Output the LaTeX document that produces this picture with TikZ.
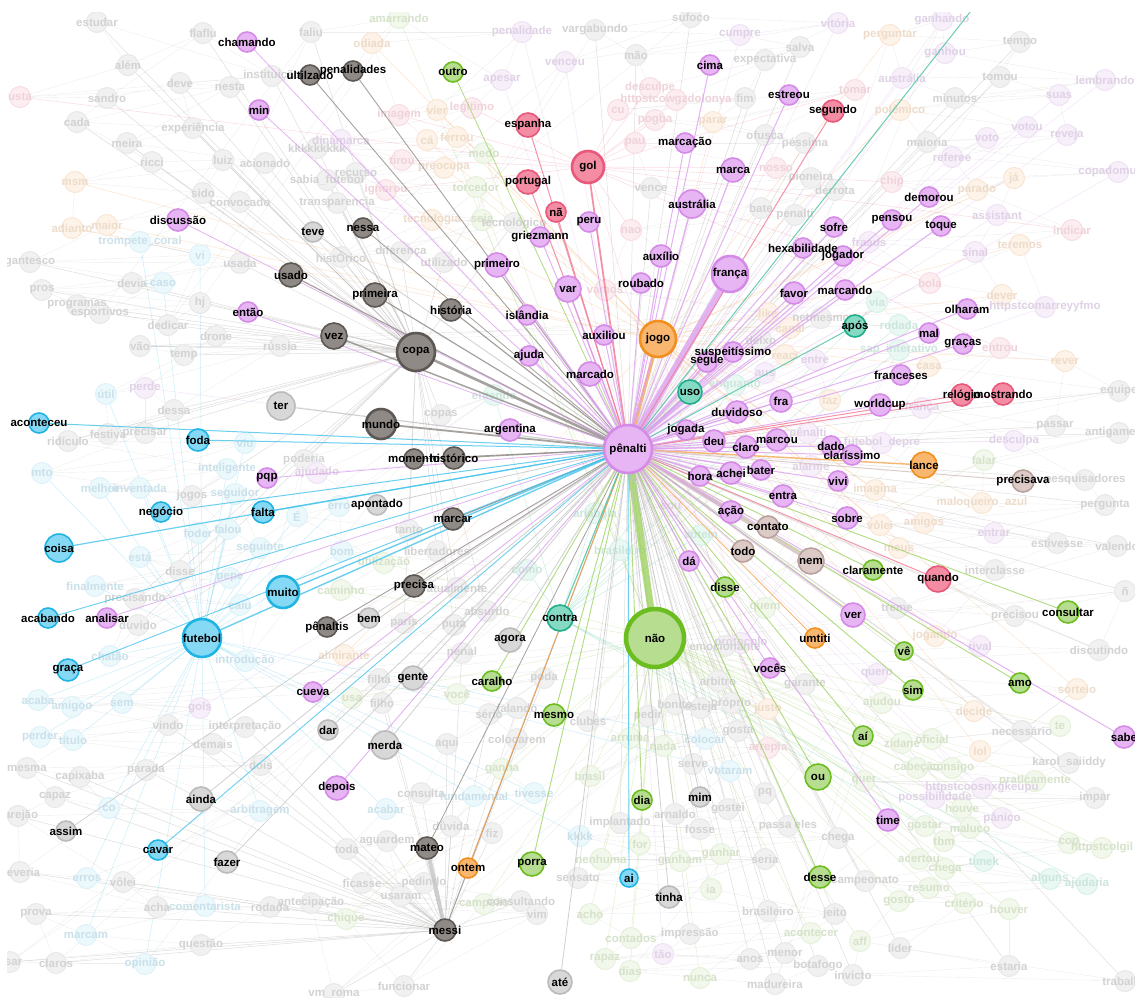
\documentclass[tikz,border=0pt]{standalone}
\usepackage{fontspec}
\setmainfont{Liberation Sans}
\pgfdeclarelayer{paper}\pgfdeclarelayer{bgedge}\pgfdeclarelayer{bgnode}\pgfdeclarelayer{fgedge}
\pgfsetlayers{paper,bgedge,bgnode,fgedge,main}
% foreground fills / borders
\definecolor{vF}{HTML}{E7B5F4}\definecolor{vD}{HTML}{D48AE6}
\definecolor{gF}{HTML}{8F8A86}\definecolor{gD}{HTML}{5D5854}
\definecolor{lF}{HTML}{D8D8D8}\definecolor{lD}{HTML}{BBBBBB}
\definecolor{bF}{HTML}{86D9F5}\definecolor{bD}{HTML}{20B4E5}
\definecolor{nF}{HTML}{B7DD90}\definecolor{nD}{HTML}{6CBD20}
\definecolor{rF}{HTML}{F48CA3}\definecolor{rD}{HTML}{E8587B}
\definecolor{oF}{HTML}{F9B66E}\definecolor{oD}{HTML}{F2901F}
\definecolor{tF}{HTML}{84DAC3}\definecolor{tD}{HTML}{20AE8A}
\definecolor{wF}{HTML}{DCCAC7}\definecolor{wD}{HTML}{B9A29E}
% edge colours
\definecolor{vE}{HTML}{DCA2EE}\definecolor{gE}{HTML}{8F8A86}\definecolor{lE}{HTML}{C4C4C4}
\definecolor{bE}{HTML}{45C3EC}\definecolor{nE}{HTML}{9FD262}\definecolor{rE}{HTML}{F07A95}
\definecolor{oE}{HTML}{F5A650}\definecolor{tE}{HTML}{45C1A0}\definecolor{wE}{HTML}{D3C0BC}
% faded background
\definecolor{gB}{HTML}{F1F1F1}\definecolor{gBd}{HTML}{E8E8E8}\definecolor{gT}{HTML}{D3D3D3}
\definecolor{vB}{HTML}{F7EFFA}\definecolor{vBd}{HTML}{F0E2F5}\definecolor{vT}{HTML}{E0D2E6}
\definecolor{bB}{HTML}{EBF8FC}\definecolor{bBd}{HTML}{DDF2FA}\definecolor{bT}{HTML}{CBE1EA}
\definecolor{nB}{HTML}{F2F8EC}\definecolor{nBd}{HTML}{E5F1DA}\definecolor{nT}{HTML}{D6E2CA}
\definecolor{rB}{HTML}{FCEDF1}\definecolor{rBd}{HTML}{F8DDE3}\definecolor{rT}{HTML}{EFD3DA}
\definecolor{oB}{HTML}{FDF3E8}\definecolor{oBd}{HTML}{FAE6D4}\definecolor{oT}{HTML}{EEDCCB}
\definecolor{tB}{HTML}{EAF8F3}\definecolor{tBd}{HTML}{D8F1E9}\definecolor{tT}{HTML}{CCE6DE}
\newcommand\myclip{\clip (7,12) rectangle (1135,997);}

\def\fglist{%
pen/628/449/24/v/pênalti/0,
nao/655/638/29/n/não/7,
franca/730/274/18/v/frança/7,
jogo/658/339/18/o/jogo/3.5,
copa/416/352/19/g/copa/2.6,
mundo/381/424/15/g/mundo/1.8,
vez/334/336/13/g/vez/1.5,
usado/291/275/12/g/usado/1.2,
primeira/375/295/12/g/primeira/1.2,
historia/451/310/11/g/história/1.2,
nessa/363/228/10/g/nessa/0.8,
ultilzado/310/75/10/g/ultilzado/0.9,
penalidades/353/71/10/g/penalidades/0.9,
momento/414/459/10/g/momento/0.9,
historico/454/458/11/g/histórico/1.2,
marcar/453/519/11/g/marcar/1.2,
precisa/414/586/11/g/precisa/0.9,
penaltis/327/627/10/g/pênaltis/0.9,
mateo/427/848/11/g/mateo/0.8,
messi/445/930/11/g/messi/0.8,
teve/313/232/10/l/teve/0.8,
ter/281/406/14/l/ter/1,
apontado/377/505/10/l/apontado/0.8,
bem/369/618/10/l/bem/0.8,
gente/413/678/12/l/gente/0.8,
agora/510/640/12/l/agora/0.8,
dar/328/730/10/l/dar/0.8,
merda/385/745/14/l/merda/0.8,
ainda/201/799/12/l/ainda/0.8,
assim/66/831/10/l/assim/0.7,
fazer/227/862/11/l/fazer/0.7,
mim/700/797/10/l/mim/0.8,
tinha/669/897/11/l/tinha/0.8,
ate/560/982/12/l/até/0.8,
aconteceu/39/423/10/b/aconteceu/1,
foda/198/440/11/b/foda/1,
negocio/161/512/10/b/negócio/1,
falta/263/512/11/b/falta/1,
coisa/59/548/14/b/coisa/1.2,
muito/283/592/16/b/muito/1.4,
futebol/202/638/19/b/futebol/1.4,
acabando/48/618/10/b/acabando/0.9,
graca/68/670/11/b/graça/0.9,
cavar/158/850/10/b/cavar/0.9,
ai/629/878/9/b/ai/0.9,
outro/453/72/10/n/outro/0.8,
disse/725/587/10/n/disse/0.9,
claramente/873/570/10/n/claramente/0.9,
consultar/1068/612/11/n/consultar/0.9,
ve/904/651/9/n/vê/0.9,
sim/913/690/10/n/sim/0.9,
amo/1020/683/10/n/amo/0.9,
aii/863/736/10/n/aí/0.9,
ou/818/777/13/n/ou/0.9,
dia/642/800/10/n/dia/0.9,
porra/532/864/12/n/porra/0.9,
mesmo/554/715/11/n/mesmo/0.9,
caralho/492/681/10/n/caralho/0.9,
desse/820/877/11/n/desse/0.9,
espanha/528/125/12/r/espanha/1,
portugal/528/182/12/r/portugal/1,
na/556/212/10/r/nã/1,
gol/588/167/16/r/gol/1.8,
segundo/833/111/11/r/segundo/1,
relogio/962/395/11/r/relógio/1,
mostrando/1003/394/11/r/mostrando/1,
quando/938/579/13/r/quando/1,
lance/924/465/13/o/lance/1.4,
umtiti/815/638/10/o/umtiti/0.9,
ontem/468/868/10/o/ontem/1,
uso/690/392/12/t/uso/1.2,
apos/855/326/11/t/após/1,
contra/560/618/13/t/contra/1.2,
nem/811/561/13/w/nem/3.5,
todo/743/551/11/w/todo/1.2,
contato/768/527/11/w/contato/1.2,
precisava/1023/481/11/w/precisava/1,
chamando/247/42/10/v/chamando/0.8,
min/259/110/10/v/min/0.8,
discussao/178/220/11/v/discussão/0.8,
entao/248/312/10/v/então/0.8,
pqp/267/478/10/v/pqp/0.8,
analisar/107/618/10/v/analisar/0.8,
cueva/313/692/10/v/cueva/0.9,
depois/337/788/12/v/depois/0.9,
argentina/510/430/11/v/argentina/1,
cima/710/65/10/v/cima/1,
estreou/789/95/10/v/estreou/1,
marcacao/685/143/10/v/marcação/1,
marca/733/170/12/v/marca/1.2,
australia/692/204/14/v/austrália/1.5,
peru/589/222/10/v/peru/1,
griezmann/540/237/10/v/griezmann/1,
primeiro/497/265/12/v/primeiro/1.2,
auxilio/661/256/11/v/auxílio/1.2,
roubado/641/283/10/v/roubado/1,
var/568/289/13/v/var/1.5,
islandia/527/315/10/v/islândia/1,
ajuda/529/356/10/v/ajuda/1,
auxiliou/604/335/10/v/auxiliou/1,
marcado/590/374/12/v/marcado/1.5,
sofre/834/227/10/v/sofre/1,
hexabilidade/803/248/10/v/hexabilidade/1,
jogador/843/256/10/v/jogador/1,
demorou/929/197/10/v/demorou/1,
pensou/892/220/10/v/pensou/1,
toque/941/226/10/v/toque/1,
favor/794/293/11/v/favor/1,
marcando/845/290/10/v/marcando/1,
olharam/967/309/10/v/olharam/1,
mal/929/333/10/v/mal/1,
gracas/963/344/10/v/graças/1,
suspeitissimo/733/352/10/v/suspeitíssimo/1,
segue/707/362/10/v/segue/1,
franceses/901/375/10/v/franceses/1,
worldcup/880/405/11/v/worldcup/1,
fra/781/401/11/v/fra/1,
duvidoso/737/412/11/v/duvidoso/1,
jogada/686/430/10/v/jogada/1,
deu/714/441/11/v/deu/1,
claro/746/447/11/v/claro/1,
marcou/777/440/11/v/marcou/1,
dado/831/446/10/v/dado/1,
clarissimo/852/455/10/v/claríssimo/1,
achei/731/473/11/v/achei/1,
bater/761/470/10/v/bater/1,
hora/700/476/10/v/hora/1,
vivi/838/481/10/v/vivi/1,
entra/783/496/11/v/entra/1,
acao/731/512/11/v/ação/1,
sobre/847/518/11/v/sobre/1,
da/689/561/10/v/dá/1,
ver/853/615/12/v/ver/1,
voces/770/668/10/v/vocês/1,
time/888/820/11/v/time/1,
sabe/1124/737/11/v/sabe/1}

\def\bglist{%
97/22/estudar/g,128/65/além/g,203/33/flaflu/g,272/76/instituição/g,20/97/usta/r,107/98/sandro/g,
180/83/deve/g,230/87/nesta/g,77/122/cada/g,193/128/experiência/g,127/143/meira/g,152/162/ricci/g,
223/160/luiz/g,265/163/acionado/g,75/182/msm/o,203/193/sido/g,240/202/convocado/g,72/228/adianto/o,
107/225/maior/o,140/242/trompete\_coral/b,200/255/vi/b,30/262/gantesco/g,240/263/usada/g,132/283/devia/g,
163/283/caso/b,42/290/pros/g,77/305/programas/g,100/313/esportivos/g,200/303/hj/g,168/325/dedicar/g,
311/32/faliu/g,399/18/amarrando/n,372/43/odiada/o,522/32/penalidade/v,502/80/apesar/v,399/115/imagem/r,
437/110/vier/o,472/108/legitimo/r,427/140/cá/o,457/137/ferrou/o,341/140/dinamarca/v,317/148/kkkkkkkkk/g,
484/153/medo/n,402/160/tirou/r,444/168/preocupa/o,327/180/sabia\_futebol/g,356/173/recurso/g,386/190/ignorou/r,
476/187/torcedor/n,337/203/transparencia/g,432/220/tecnologia/o,482/220/seja/n,514/223/tecnológico/g,
341/257/histÓrico/g,401/252/diferença/g,444/262/utilizado/g,565/62/venceu/v,
691/17/sufoco/g,595/30/vargabundo/g,740/35/cumpre/v,838/23/vitória/v,636/55/mão/g,800/47/salva/g,
765/60/expectativa/g,650/88/desculpe/r,676/100/httpstcowgzdolonya/r,745/98/fim/g,618/110/cu/r,655/120/pogba/r,
713/122/parar/o,855/90/tomar/r,765/135/ofusca/g,805/143/péssima/g,635/143/pau/r,776/168/nosso/r,
811/178/pioneira/g,651/188/vence/g,835/190/derrota/g,761/208/bate/g,795/215/penalti/g,631/230/nao/r,
605/290/vamos/r,768/313/like/o,790/328/canal/o,821/318/netmesmo/g,
942/20/ganhando/v,890/35/perguntar/o,1020/42/tempo/g,945/53/ganhou/v,902/78/austrália/v,1000/77/tomou/g,
1105/80/lembrando/v,955/98/minutos/g,1059/95/suas/v,900/110/polêmico/o,1027/127/votou/v,1067/135/reveja/v,
927/142/maioria/g,987/138/voto/v,952/157/referee/v,1118/172/copadomundo/v,892/182/chip/r,977/190/parado/o,
1014/178/já/o,997/215/assistant/v,1072/230/indicar/r,869/242/fraaus/v,975/252/sinal/v,1020/245/teremos/o,
930/283/bola/r,1002/295/dever/o,1045/307/httpstcomarreyyfmo/v,877/302/via/t,899/325/rodada/t,
140/346/vão/g,184/355/temp/g,216/336/drone/g,280/346/rússia/g,106/394/útil/b,145/388/perde/v,
174/410/dessa/g,108/434/festiva/g,145/433/precisar/g,68/441/ridículo/g,245/443/viu/b,42/473/mto/b,
227/469/inteligente/b,100/488/melhor/b,140/488/inventada/b,192/496/jogos/g,235/494/seguidor/b,198/533/foder/b,
228/529/falou/b,260/548/seguinte/b,140/557/está/b,180/571/disse/g,95/586/finalmente/b,230/578/pepe/b,
135/599/precisando/g,240/605/caiu/b,138/625/duvido/g,110/656/chatão/b,245/661/introdução/b,
441/415/copas/g,494/395/entende/t,304/460/poderia/g,317/473/ajudado/v,339/506/erro/b,297/516/É/b,
409/530/tanto/g,342/551/bom/b,384/563/utilização/n,437/551/libertadores/g,527/570/como/t,341/590/caminho/n,
457/588/atualmente/g,487/611/absurdo/g,404/623/paris/g,454/625/puta/g,344/655/almirante/o,462/653/penal/g,
761/340/deixo/g,785/355/reaci/o,815/360/entre/v,765/373/aus/v,735/385/enquanto/t,830/400/faz/o,
808/433/pênalti/v,811/466/alarme/v,671/506/sou/v,595/513/ariabela/t,701/535/votem/t,620/550/brasileiro/t,
765/608/quem/n,741/643/protocolo/v,725/646/emocionante/g,
899/350/sap\_interativo/t,929/366/casa/o,1000/348/entrou/r,1065/361/rever/o,1119/391/equipe/g,922/408/frança/v,
1055/426/passar/g,882/443/futebol\_depre/v,1014/441/desculpa/v,1119/433/antigamente/g,984/460/falar/n,
1085/480/pesquisadores/g,875/490/imagina/o,982/503/maloqueiro\_azul/o,1105/505/pergunta/g,880/525/vôlei/o,
924/523/amigos/o,994/533/entrar/v,1057/543/estivesse/g,1117/546/valendo/g,899/548/meus/o,995/570/interclasse/g,
897/608/treme/g,1015/616/precisou/g,935/636/jogando/o,980/646/rival/v,1099/650/discutindo/g,1125/591/ñ/g,
38/700/acaba/b,72/707/amigoo/b,122/703/sem/b,200/708/gols/v,168/725/vindo/g,245/727/interpretação/g,
40/737/perder/b,73/740/título/b,213/744/demais/g,261/765/dois/g,27/768/mesma/g,80/777/capixaba/g,
146/770/parada/g,55/797/capaz/g,109/808/co/b,260/811/arbitragem/b,18/816/varejão/g,20/872/deveria/g,
87/878/erros/b,123/882/vôlei/g,157/907/acha/g,205/906/comentarista/b,270/907/rodada/g,36/914/prova/g,
86/935/marcam/b,201/945/questão/g,56/963/claros/g,145/964/opinião/b,10/962/usar/g,
379/679/filha/g,352/698/usa/n,382/703/filho/g,457/694/você/n,544/678/poda/g,489/714/sério/g,
517/708/falando/g,447/744/aqui/g,517/739/colocarem/g,502/769/ganha/n,421/793/consulta/g,
474/796/fundamental/b,534/793/tivesse/b,386/809/acabar/b,451/826/dúvida/g,492/833/fiz/g,347/849/toda/g,
387/841/aguardem/g,362/883/ficasse/g,424/883/pedindo/g,401/896/usaram/g,484/904/campeão/n,521/901/consultando/g,
537/914/vim/g,311/903/antecipação/g,346/919/chique/n,404/986/funcionar/g,334/994/vm\_roma/g,
648/716/pedir/g,675/704/bonito/g,701/708/esteja/g,731/703/próprio/g,718/681/arbitro/g,805/684/garante/g,
588/721/clubes/g,768/709/justo/o,590/776/brasil/n,630/738/arruma/n,663/746/nada/n,705/739/colocar/b,
738/731/gosta/g,768/748/arrepia/r,693/764/serve/g,730/771/votaram/b,765/793/pq/g,728/809/gostei/g,
675/814/arnaldo/g,620/823/implantado/g,700/829/fosse/g,788/826/passa eles/g,838/838/chega/g,580/836/kkkk/b,
640/844/for/n,601/859/nenhuma/n,680/861/ganham/n,721/854/ganhar/n,765/859/seria/g,578/878/sensato/g,
711/889/ia/n,590/914/acho/n,768/911/brasileiro/g,835/914/jeito/g,631/938/contados/n,690/934/impressão/g,
811/933/acontecer/n,605/959/rapaz/n,663/954/tão/v,750/959/anos/g,785/953/menor/g,818/966/botafogo/g,
630/971/dias/n,700/978/nunca/n,775/984/madureira/g,
877/674/quero/v,1077/689/sorteio/o,882/703/ajudou/n,974/711/decide/o,1022/731/necessário/g,1060/726/te/n,
902/743/zidane/n,932/739/oficial/n,980/751/lol/o,917/768/cabeção/n,952/768/consigo/n,1069/763/karol\_saiiddy/g,
1035/781/praticamente/n,864/781/quer/n,982/788/httpstcoosnxgkeupu/v,935/798/possibilidade/v,1095/798/impar/g,
962/808/houve/n,1002/818/pânico/v,925/826/gostar/n,970/828/maluco/n,944/841/tbm/n,1069/843/cop/n,
1102/848/httpstcolgil/n,919/859/acertou/n,945/869/chega/n,984/861/timek/t,1050/879/alguns/t,1087/884/ajudaria/t,
865/881/campeonato/g,929/888/resumo/n,899/901/gosto/n,964/903/critério/n,1009/909/houver/n,860/941/aff/n,
900/948/líder/g,1009/966/estaria/g,853/975/invicto/g,1125/981/trabalho/g}

\begin{document}
\begin{tikzpicture}[x=1pt,y=-1pt,
  fgnode/.style={circle,inner sep=0pt},
  fgv/.style={fgnode,fill=vF,draw=vD},fgg/.style={fgnode,fill=gF,draw=gD},
  fgl/.style={fgnode,fill=lF,draw=lD},fgb/.style={fgnode,fill=bF,draw=bD},
  fgn/.style={fgnode,fill=nF,draw=nD},fgr/.style={fgnode,fill=rF,draw=rD},
  fgo/.style={fgnode,fill=oF,draw=oD},fgt/.style={fgnode,fill=tF,draw=tD},
  fgw/.style={fgnode,fill=wF,draw=wD},
  egbase/.style={draw opacity=0.8,line cap=round},
  egv/.style={egbase,draw=vE},egg/.style={egbase,draw=gE},egl/.style={egbase,draw=lE},
  egb/.style={egbase,draw=bE},egn/.style={egbase,draw=nE},egr/.style={egbase,draw=rE},
  ego/.style={egbase,draw=oE},egt/.style={egbase,draw=tE},egw/.style={egbase,draw=wE},
  lbl/.style={inner sep=0pt,font=\bfseries\fontsize{11.5}{12}\selectfont,text=black},
  bgbase/.style={circle,inner sep=0pt,minimum size=21pt,line width=1pt},
  bgg/.style={bgbase,fill=gB,draw=gBd},bgv/.style={bgbase,fill=vB,draw=vBd},
  bgb/.style={bgbase,fill=bB,draw=bBd},bgn/.style={bgbase,fill=nB,draw=nBd},
  bgr/.style={bgbase,fill=rB,draw=rBd},bgo/.style={bgbase,fill=oB,draw=oBd},
  bgt/.style={bgbase,fill=tB,draw=tBd},
  btbase/.style={inner sep=0pt,font=\bfseries\fontsize{11.5}{12}\selectfont},
  btg/.style={btbase,text=gT},btv/.style={btbase,text=vT},btb/.style={btbase,text=bT},
  btn/.style={btbase,text=nT},btr/.style={btbase,text=rT},bto/.style={btbase,text=oT},
  btt/.style={btbase,text=tT},
  bebase/.style={line width=0.5pt,draw opacity=0.28},
  beg/.style={bebase,draw=gE},bev/.style={bebase,draw=vE},beb/.style={bebase,draw=bE},
  ben/.style={bebase,draw=nE},ber/.style={bebase,draw=rE},beo/.style={bebase,draw=oE},
  bet/.style={bebase,draw=tE},
  bechain/.style={line width=0.4pt,draw=black,draw opacity=0.07}]
\useasboundingbox (0,0) rectangle (1135,997);
\begin{pgfonlayer}{paper}
\fill[white] (0,0) rectangle (1135,997);
\end{pgfonlayer}

% foreground nodes
\begin{scope}
\myclip
\foreach \n/\x/\y/\r/\s/\t/\w in \fglist {
  \ifnum\r>25 \def\lw{4.5}\else\ifnum\r>14 \def\lw{2.6}\else\def\lw{1.6}\fi\fi
  \node[fg\s,minimum size={2*\r pt},line width=\lw pt] (\n) at (\x,\y) {};
}
\foreach \n/\x/\y/\r/\s/\t/\w in \fglist {
  \node[lbl] at (\n.center) {\t};
}
\end{scope}

% background nodes
\begin{pgfonlayer}{bgnode}
\begin{scope}
\myclip
\foreach \x/\y/\t/\k [count=\i] in \bglist {
  \node[bg\k] (b\i) at (\x,\y) {};
}
\foreach \x/\y/\t/\k [count=\i] in \bglist {
  \node[bt\k] at (\x,\y) {\t};
}
\end{scope}
\end{pgfonlayer}

% background edges
\begin{pgfonlayer}{bgedge}
\begin{scope}
\myclip
\foreach \x/\y/\t/\k [count=\i] in \bglist {
  \def\hub{pen}
  \if b\k\def\hub{futebol}\fi
  \if n\k\def\hub{nao}\fi
  \if r\k\def\hub{gol}\fi
  \if o\k\def\hub{jogo}\fi
  \if t\k\def\hub{contra}\fi
  \if g\k\ifdim\x pt<560pt \ifdim\y pt<640pt \def\hub{copa}\else\def\hub{messi}\fi\fi\fi
  \draw[be\k] (b\i) -- (\hub);
  \ifnum\i>1 \pgfmathtruncatemacro\j{\i-1}\draw[bechain] (b\i) -- (b\j);\fi
  \ifnum\i>3 \pgfmathtruncatemacro\j{\i-3}\draw[bechain] (b\i) -- (b\j);\fi
}
\end{scope}
\end{pgfonlayer}

% foreground edges
\begin{pgfonlayer}{fgedge}
\begin{scope}
\myclip
\foreach \n/\x/\y/\r/\s/\t/\w in \fglist {
  \ifdim\w pt>0pt \draw[eg\s,line width=\w pt] (pen) -- (\n);\fi
}
\draw[egl,line width=4pt] (messi) -- (mateo);
\coordinate (offT) at (992,-16);
\draw[egt,line width=1pt] (pen) -- (offT);
\end{scope}
\end{pgfonlayer}
\end{tikzpicture}
\end{document}
